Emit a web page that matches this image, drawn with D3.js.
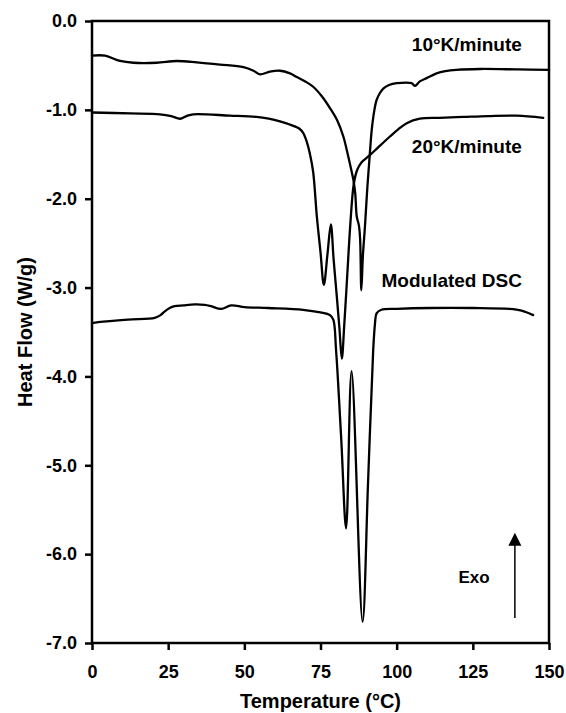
<!DOCTYPE html>
<html><head><meta charset="utf-8">
<script src="https://cdn.jsdelivr.net/npm/d3@7"></script>
<style>
html,body{margin:0;padding:0;background:#fff;}
svg{display:block;font-family:"Liberation Sans",Arial,Helvetica,sans-serif;font-weight:bold;}
</style>
</head><body>
<svg id="chart" width="566" height="713"></svg>
<script>
// ---- data ----
const xTicks = [0, 25, 50, 75, 100, 125, 150];
const xTickLabels = ["0", "25", "50", "75", "100", "125", "150"];
const yTicks = [0, -1, -2, -3, -4, -5, -6, -7];
const yTickLabels = ["0.0", "-1.0", "-2.0", "-3.0", "-4.0", "-5.0", "-6.0", "-7.0"];
const seriesNames = ["10°K/minute", "20°K/minute", "Modulated DSC"];

const temp10 = [0, 4.3, 9.2, 13.6, 21.2, 27.8, 34.4, 42, 49.7, 53, 55.1, 58.4, 61.7, 65, 67.2, 70, 72.6, 75.5, 78.1, 80.5, 82.5, 83.6, 85, 85.8, 86.4, 86.9, 87.6, 88.0, 88.4, 88.9, 89.6, 90.4, 91.2, 91.8, 92.6, 93.4, 94.5, 95.6, 97.5, 100, 104.9, 106, 107.6, 110, 113.1, 116, 119.6, 127.3, 140, 150];
const flow10 = [-0.39, -0.39, -0.45, -0.47, -0.47, -0.45, -0.465, -0.49, -0.52, -0.56, -0.60, -0.57, -0.56, -0.59, -0.63, -0.68, -0.74, -0.85, -0.98, -1.12, -1.30, -1.45, -1.66, -1.79, -1.94, -2.20, -2.30, -2.45, -3.03, -2.65, -2.31, -1.86, -1.49, -1.23, -1.02, -0.89, -0.81, -0.76, -0.72, -0.70, -0.70, -0.73, -0.68, -0.64, -0.59, -0.565, -0.55, -0.54, -0.545, -0.55];

const temp20 = [0, 12.5, 22.3, 26, 28.9, 31, 33.2, 45.3, 54, 58, 61.7, 66.1, 68, 69.3, 70.5, 71.5, 72.6, 73.8, 75, 76.1, 77.3, 78.4, 79.3, 80.3, 81.2, 82.0, 82.8, 83.8, 84.8, 85.9, 87.0, 88.5, 91.2, 94, 97.8, 100.5, 103.3, 107.6, 114, 121.9, 130, 139.4, 148.1];
const flow20 = [-1.03, -1.04, -1.05, -1.07, -1.10, -1.07, -1.05, -1.065, -1.08, -1.10, -1.13, -1.18, -1.21, -1.26, -1.36, -1.49, -1.70, -2.20, -2.60, -2.97, -2.62, -2.29, -2.68, -3.08, -3.45, -3.80, -3.42, -2.85, -2.28, -1.84, -1.68, -1.59, -1.51, -1.42, -1.30, -1.22, -1.15, -1.10, -1.09, -1.08, -1.07, -1.065, -1.09];

const tempM = [0, 2, 11.8, 20.6, 22.5, 23.8, 25.5, 27.1, 30, 33.7, 37, 39.1, 42.4, 45.7, 50.1, 57.8, 69.3, 75, 78.1, 79.2, 80.1, 81.8, 83.4, 85.2, 88.8, 90.6, 92.3, 92.9, 93.4, 95, 100, 111, 125, 137, 141, 144.8];
const flowM = [-3.40, -3.39, -3.36, -3.34, -3.31, -3.27, -3.23, -3.21, -3.20, -3.19, -3.195, -3.21, -3.24, -3.20, -3.22, -3.23, -3.25, -3.28, -3.31, -3.36, -3.70, -4.70, -5.71, -3.94, -6.76, -5.20, -3.70, -3.40, -3.29, -3.25, -3.24, -3.23, -3.23, -3.24, -3.26, -3.31];

// series label anchors (right end, baseline) in data units
const labelTemp = [141.1, 141.1, 141.1];
const labelFlow = [-0.34, -1.48, -2.99];

// Exo annotation in data units
const exoText = "Exo";
const exoTemp = [125.4];
const exoFlow = [-6.32];
const arrowTemp = [138.8];
const arrowFlow = [-6.72, -5.76];

// ---- chart ----
const W = 566, H = 713;
const margin = {top: 21, right: 17, bottom: 70, left: 92};
const svg = d3.select("#chart");

const x = d3.scaleLinear().domain([0, 150]).range([margin.left, W - margin.right]);
const y = d3.scaleLinear().domain([-7, 0]).range([H - margin.bottom, margin.top]);

// axes
const xAxis = d3.axisBottom(x).tickValues(xTicks).tickFormat((d, i) => xTickLabels[i])
  .tickSize(7).tickSizeOuter(0).tickPadding(15);
const yAxis = d3.axisLeft(y).tickValues(yTicks).tickFormat((d, i) => yTickLabels[i])
  .tickSize(7).tickSizeOuter(0).tickPadding(8);

const gx = svg.append("g").attr("transform", `translate(0,${y(-7)})`).call(xAxis);
const gy = svg.append("g").attr("transform", `translate(${x(0)},0)`).call(yAxis);
[gx, gy].forEach(g => {
  g.select(".domain").remove();
  g.selectAll(".tick line").attr("stroke", "#000").attr("stroke-width", 2.5);
  g.selectAll(".tick text").attr("fill", "#000").style("font-size", "18px")
    .style("font-weight", "bold").style("font-family", '"Liberation Sans",Arial,sans-serif');
});

// frame
svg.append("rect")
  .attr("x", x(0)).attr("y", y(0))
  .attr("width", x(150) - x(0)).attr("height", y(-7) - y(0))
  .attr("fill", "none").attr("stroke", "#000").attr("stroke-width", 2.5);

// lines
const line = d3.line().x(d => x(d[0])).y(d => y(d[1])).curve(d3.curveCatmullRom.alpha(0.5));
const series = [
  d3.zip(temp10, flow10),
  d3.zip(temp20, flow20),
  d3.zip(tempM, flowM)
];
svg.append("g").selectAll("path").data(series).join("path")
  .attr("d", line)
  .attr("fill", "none").attr("stroke", "#000").attr("stroke-width", 2.3)
  .attr("stroke-linejoin", "round").attr("stroke-linecap", "round");

// series labels
svg.append("g").selectAll("text").data(seriesNames).join("text")
  .attr("x", (d, i) => x(labelTemp[i]))
  .attr("y", (d, i) => y(labelFlow[i]))
  .attr("text-anchor", "end")
  .style("font-size", "19px")
  .text(d => d);

// Exo annotation
svg.append("text")
  .attr("x", x(exoTemp[0])).attr("y", y(exoFlow[0]))
  .attr("text-anchor", "middle").style("font-size", "17px")
  .text(exoText);
const ax = x(arrowTemp[0]), ay0 = y(arrowFlow[0]), ay1 = y(arrowFlow[1]);
svg.append("line").attr("x1", ax).attr("x2", ax).attr("y1", ay0).attr("y2", ay1 + 10)
  .attr("stroke", "#000").attr("stroke-width", 1.5);
svg.append("path")
  .attr("d", `M${ax},${ay1} L${ax - 6.5},${ay1 + 13} L${ax + 6.5},${ay1 + 13} Z`)
  .attr("fill", "#000");

// axis titles
svg.append("text")
  .attr("x", (x(0) + x(150)) / 2).attr("y", 708)
  .attr("text-anchor", "middle").style("font-size", "20px")
  .text("Temperature (°C)");
svg.append("text")
  .attr("transform", `translate(32,${(y(0) + y(-7)) / 2}) rotate(-90)`)
  .attr("text-anchor", "middle").style("font-size", "20px")
  .text("Heat Flow (W/g)");
</script>
</body></html>
